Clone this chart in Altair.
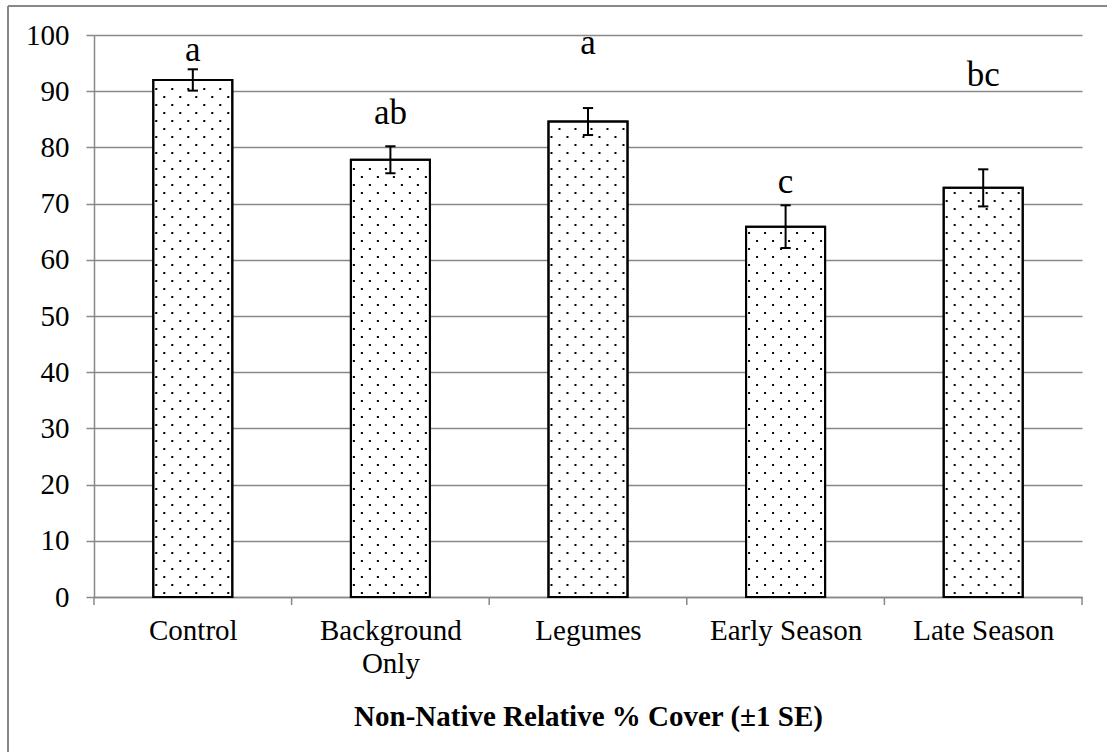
import altair as alt
import pandas as pd

# Treatment groups, mean non-native relative cover (%), standard errors
treatments = ["Control", "Background Only", "Legumes", "Early Season", "Late Season"]
label_lines = [["Control"], ["Background", "Only"], ["Legumes"], ["Early Season"], ["Late Season"]]
means = [92.0, 77.8, 84.6, 65.9, 72.8]
se = [1.9, 2.4, 2.4, 3.8, 3.3]
letters = ["a", "ab", "a", "c", "bc"]
letter_y = [95.3, 84.2, 96.7, 71.9, 91.0]

FONT = "Liberation Serif"
GRID = "#888888"
W, H = 988, 562
HALF = 0.2  # half bar width in category units

rows = []
for i, name in enumerate(treatments):
    c = i + 0.5
    rows.append(dict(treatment=name, pos=c, lo=c - HALF, hi=c + HALF,
                     mean=means[i], low=means[i] - se[i], high=means[i] + se[i],
                     cap_l=c - 0.026, cap_r=c + 0.026,
                     letter=letters[i], ly=letter_y[i]))
df = pd.DataFrame(rows)

# category boundaries carry the x-axis tick marks
bounds = pd.DataFrame({"b": list(range(len(treatments) + 1))})

# dotted fill texture inside each bar, staggered rows
px_x = len(treatments) / W   # category units per pixel
px_y = 100 / H               # value units per pixel
dots = []
for r in rows:
    k = 0
    y = 4 * px_y
    while y < r["mean"] - 2 * px_y:
        x = r["lo"] + (3 if k % 2 else 11) * px_x
        while x < r["hi"] - 2 * px_x:
            dots.append(dict(x=x, y=y))
            x += 16 * px_x
        y += 8 * px_y
        k += 1
dots = pd.DataFrame(dots)

xscale = alt.Scale(domain=[0, len(treatments)], nice=False, zero=False)
yscale = alt.Scale(domain=[0, 100], nice=False)

names_js = "[" + ",".join("[" + ",".join("'%s'" % s for s in ln) + "]" for ln in label_lines) + "]"

x_axis = alt.Axis(
    values=[i + 0.5 for i in range(len(treatments))], grid=False, ticks=False,
    labelExpr=f"{names_js}[floor(datum.value)]",
    labelFont=FONT, labelFontSize=29, labelColor="black",
    labelLineHeight=33, labelOverlap=False, labelFlush=False, labelBound=False,
    labelPadding=19, domainColor=GRID, domainWidth=1.5,
    title="Non-Native Relative % Cover (±1 SE)", titleFont=FONT, titleFontSize=29,
    titleFontWeight="bold", titleColor="black", titlePadding=24,
)
y_axis = alt.Axis(
    values=list(range(0, 101, 10)), grid=True, gridColor=GRID, gridWidth=1.5,
    labelFont=FONT, labelFontSize=29, labelColor="black", labelPadding=17,
    tickSize=8, tickColor=GRID, tickWidth=1.5, domainColor=GRID, domainWidth=1.5,
    title=None,
)

base = alt.Chart(df)

bars = base.mark_rect(fill="white", stroke="black", strokeWidth=2).encode(
    x=alt.X("lo:Q", scale=xscale, axis=x_axis),
    x2="hi:Q",
    y=alt.Y("mean:Q", scale=yscale, axis=y_axis),
    y2=alt.datum(0),
)

texture = alt.Chart(dots).mark_square(size=4, color="black", opacity=1).encode(
    x=alt.X("x:Q", scale=xscale),
    y=alt.Y("y:Q", scale=yscale),
)

outline = base.mark_rect(fill=None, stroke="black", strokeWidth=2).encode(
    x="lo:Q", x2="hi:Q", y="mean:Q", y2=alt.datum(0),
)

ticks = alt.Chart(bounds).mark_rule(color=GRID, strokeWidth=1.5).encode(
    x=alt.X("b:Q", scale=xscale), y=alt.value(H), y2=alt.value(H + 8),
)

err = base.mark_rule(color="black", strokeWidth=2).encode(
    x="pos:Q", y="low:Q", y2="high:Q",
)
cap_hi = base.mark_rule(color="black", strokeWidth=2).encode(
    x="cap_l:Q", x2="cap_r:Q", y="high:Q",
)
cap_lo = base.mark_rule(color="black", strokeWidth=2).encode(
    x="cap_l:Q", x2="cap_r:Q", y="low:Q",
)

marks = base.mark_text(font=FONT, fontSize=35, color="black", baseline="alphabetic",
                       align="center").encode(
    x="pos:Q", y="ly:Q", text="letter:N",
)

# outer chart frame
frame_top = base.mark_rule(color=GRID, strokeWidth=1.5).encode(
    x=alt.value(-86), x2=alt.value(1030), y=alt.value(-29),
)
frame_left = base.mark_rule(color=GRID, strokeWidth=1.5).encode(
    x=alt.value(-86), y=alt.value(-29), y2=alt.value(730),
)

chart = alt.layer(bars, texture, outline, ticks, err, cap_hi, cap_lo, marks,
                  frame_top, frame_left).properties(
    width=W, height=H,
    autosize=alt.AutoSizeParams(type="none"),
    padding={"left": 94, "top": 35, "right": 25, "bottom": 155},
    background="white",
).configure_view(stroke=None)

chart.save("out.html", embed_options={"renderer": "svg", "actions": False})
